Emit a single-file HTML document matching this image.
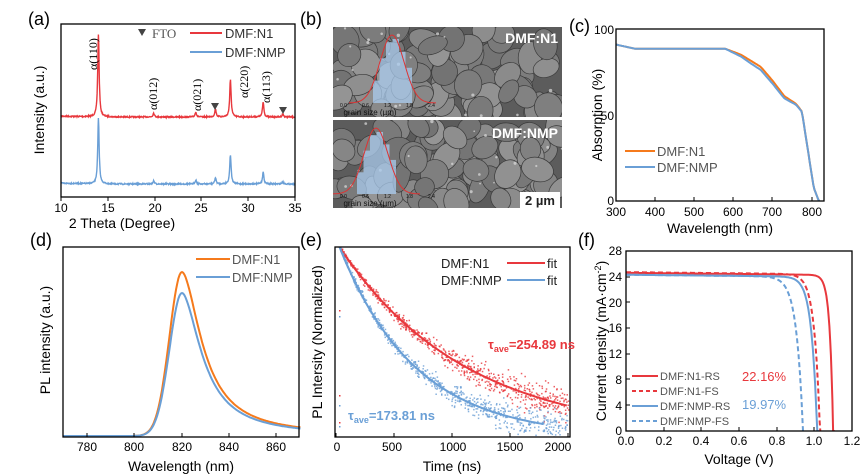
<!DOCTYPE html>
<html><head><meta charset="utf-8"><style>
html,body{margin:0;padding:0;background:#fff;}
svg{display:block;font-family:"Liberation Sans",Arial,sans-serif;}
</style></head><body>
<svg id="s" width="865" height="476" viewBox="0 0 865 476" xmlns="http://www.w3.org/2000/svg">
<defs>
<clipPath id="cb1"><rect x="333" y="27" width="229" height="90"/></clipPath>
<clipPath id="cb2"><rect x="333" y="120" width="229" height="88"/></clipPath>
<clipPath id="ce"><rect x="335" y="247" width="235" height="190"/></clipPath>
<clipPath id="cf"><rect x="626" y="251" width="226" height="180"/></clipPath>
</defs>
<g id="g"></g>
<g font-size="18" fill="#000">
<text x="28" y="25">(a)</text><text x="300" y="25">(b)</text><text x="569" y="32">(c)</text>
<text x="30" y="246">(d)</text><text x="300" y="246">(e)</text><text x="578" y="246">(f)</text>
</g>
<g font-size="12" text-anchor="middle" fill="#000">
<text x="61" y="212">10</text><text x="108" y="212">15</text><text x="155" y="212">20</text><text x="201" y="212">25</text><text x="248" y="212">30</text><text x="295" y="212">35</text>
</g>
<text x="122" y="228" font-size="14" text-anchor="middle">2 Theta (Degree)</text>
<text transform="translate(44,110) rotate(-90)" font-size="14" text-anchor="middle">Intensity (a.u.)</text>
<g font-family="Liberation Serif,serif" font-size="12" fill="#000">
<text transform="translate(97,70) rotate(-90)">α(110)</text>
<text transform="translate(157,110) rotate(-90)">α(012)</text>
<text transform="translate(201,111) rotate(-90)">α(021)</text>
<text transform="translate(248,98) rotate(-90)">α(220)</text>
<text transform="translate(270,103) rotate(-90)">α(113)</text>
</g>
<path d="M138,29 h8 l-4,7z M211,103 h8 l-4,7z M279,107 h8 l-4,7z" fill="#444"/>
<text x="152" y="38" font-family="Liberation Serif,serif" font-size="13" fill="#555">FTO</text>
<line x1="190" y1="33" x2="222" y2="33" stroke="#e8383d" stroke-width="2"/>
<line x1="190" y1="52" x2="222" y2="52" stroke="#6a9fd6" stroke-width="2"/>
<text x="225" y="38" font-size="13" fill="#333">DMF:N1</text>
<text x="225" y="57" font-size="13" fill="#333">DMF:NMP</text>
<g font-size="12" text-anchor="middle">
<text x="616" y="216">300</text><text x="655" y="216">400</text><text x="694" y="216">500</text><text x="733" y="216">600</text><text x="772" y="216">700</text><text x="812" y="216">800</text>
</g>
<g font-size="12" text-anchor="end"><text x="614" y="34">100</text><text x="614" y="120">50</text><text x="614" y="205">0</text></g>
<text x="720" y="233" font-size="14" text-anchor="middle">Wavelength (nm)</text>
<text transform="translate(602,115) rotate(-90)" font-size="14" text-anchor="middle">Absorption (%)</text>
<line x1="625" y1="151" x2="655" y2="151" stroke="#f57a1c" stroke-width="2"/>
<line x1="625" y1="167" x2="655" y2="167" stroke="#6a9fd6" stroke-width="2"/>
<text x="657" y="156" font-size="13" fill="#555">DMF:N1</text>
<text x="657" y="172" font-size="13" fill="#555">DMF:NMP</text>
<g font-size="12" text-anchor="middle">
<text x="87" y="451">780</text><text x="134" y="451">800</text><text x="182" y="451">820</text><text x="229" y="451">840</text><text x="276" y="451">860</text>
</g>
<text x="181" y="471" font-size="14" text-anchor="middle">Wavelength (nm)</text>
<text transform="translate(50,340) rotate(-90)" font-size="14" text-anchor="middle">PL intensity (a.u.)</text>
<line x1="196" y1="259" x2="230" y2="259" stroke="#f57a1c" stroke-width="2"/>
<line x1="196" y1="277" x2="230" y2="277" stroke="#6a9fd6" stroke-width="2"/>
<text x="232" y="264" font-size="13" fill="#555">DMF:N1</text>
<text x="232" y="282" font-size="13" fill="#555">DMF:NMP</text>
<g font-size="12" text-anchor="middle">
<text x="337" y="451">0</text><text x="392" y="451">500</text><text x="453" y="451">1000</text><text x="510" y="451">1500</text><text x="558" y="451">2000</text>
</g>
<text x="452" y="471" font-size="14" text-anchor="middle">Time (ns)</text>
<text transform="translate(322,342) rotate(-90)" font-size="14" text-anchor="middle">PL Intersity (Normalized)</text>
<text x="441" y="268" font-size="13" fill="#222">DMF:N1</text>
<text x="441" y="285" font-size="13" fill="#222">DMF:NMP</text>
<line x1="507" y1="263" x2="545" y2="263" stroke="#e8383d" stroke-width="2"/>
<line x1="507" y1="280" x2="545" y2="280" stroke="#6a9fd6" stroke-width="2"/>
<text x="547" y="268" font-size="13" fill="#222">fit</text>
<text x="547" y="285" font-size="13" fill="#222">fit</text>
<text x="488" y="349" font-size="13" font-weight="bold" fill="#e8383d">τ<tspan font-size="9" dy="3">ave</tspan><tspan dy="-3">=254.89 ns</tspan></text>
<text x="348" y="420" font-size="13" font-weight="bold" fill="#6a9fd6">τ<tspan font-size="9" dy="3">ave</tspan><tspan dy="-3">=173.81 ns</tspan></text>
<g font-size="12" text-anchor="middle">
<text x="626" y="445">0.0</text><text x="664" y="445">0.2</text><text x="701" y="445">0.4</text><text x="739" y="445">0.6</text><text x="777" y="445">0.8</text><text x="814" y="445">1.0</text><text x="852" y="445">1.2</text>
</g>
<g font-size="12" text-anchor="end">
<text x="622" y="255">28</text><text x="622" y="281">24</text><text x="622" y="307">20</text><text x="622" y="332">16</text><text x="622" y="358">12</text><text x="622" y="384">8</text><text x="622" y="410">4</text><text x="622" y="435">0</text>
</g>
<text x="739" y="464" font-size="14" text-anchor="middle">Voltage (V)</text>
<text transform="translate(606,341) rotate(-90)" font-size="14" text-anchor="middle">Current density (mA·cm<tspan font-size="9" dy="-5">-2</tspan><tspan dy="5">)</tspan></text>
<line x1="632" y1="376" x2="658" y2="376" stroke="#e8383d" stroke-width="2"/>
<line x1="632" y1="391" x2="658" y2="391" stroke="#e8383d" stroke-width="2" stroke-dasharray="4,3"/>
<line x1="632" y1="406" x2="658" y2="406" stroke="#6a9fd6" stroke-width="2"/>
<line x1="632" y1="421" x2="658" y2="421" stroke="#6a9fd6" stroke-width="2" stroke-dasharray="4,3"/>
<g font-size="11" fill="#555">
<text x="660" y="380">DMF:N1-RS</text><text x="660" y="395">DMF:N1-FS</text><text x="660" y="410">DMF:NMP-RS</text><text x="660" y="425">DMF:NMP-FS</text>
</g>
<text x="742" y="381" font-size="13" fill="#e8383d">22.16%</text>
<text x="742" y="409" font-size="13" fill="#6a9fd6">19.97%</text>
</svg>
<script>
(function(){
var NS="http://www.w3.org/2000/svg",g=document.getElementById("g");
function el(t,a,p){var e=document.createElementNS(NS,t);for(var k in a)e.setAttribute(k,a[k]);(p||g).appendChild(e);return e;}
var seed=7;function r(){seed=(seed*16807)%2147483647;return seed/2147483647;}
var RED="#e8383d",BLUE="#6a9fd6",OR="#f57a1c";
function xrd(base,sc,col){var pk=[[14,83],[19.9,4],[24.4,5],[26.5,8],[28.1,37],[31.6,15],[33.7,3]];var d="";
for(var i=0;i<=700;i++){var t=10+25*i/700,v=0;pk.forEach(function(p){var w=(t-p[0])/0.09;v+=p[1]/(1+w*w);});
var y=base-v*sc+(r()-0.5)*1.2+(t<14?-(14-t)*0.2:0);d+=(i?"L":"M")+(61+9.36*(t-10)).toFixed(1)+","+y.toFixed(1);}
el("path",{d:d,fill:"none",stroke:col,"stroke-width":1.4});}
xrd(117,1,RED);xrd(184,0.79,BLUE);
el("rect",{x:61,y:24,width:234,height:173,fill:"none",stroke:"#000","stroke-width":1.3});
[61,108,155,201,248,295].forEach(function(x){el("line",{x1:x,y1:197,x2:x,y2:201,stroke:"#000"});});
function sem(y0,h,clip,px){var gg=el("g",{"clip-path":"url(#"+clip+")"});
el("rect",{x:333,y:y0,width:229,height:h,fill:"#5c5c5c"},gg);
for(var i=0;i<90;i++){var cx=333+r()*229,cy=y0+r()*h,rx=9+r()*8,ry=8+r()*7,c=Math.floor(115+r()*35);
el("ellipse",{cx:cx,cy:cy,rx:rx,ry:ry,fill:"rgb("+c+","+c+","+c+")",stroke:"#3a3a3a","stroke-width":0.7,transform:"rotate("+(r()*180)+" "+cx+" "+cy+")"},gg);}
for(var i=0;i<20;i++){el("circle",{cx:333+r()*229,cy:y0+r()*h,r:0.8+r(),fill:"#ddd",opacity:0.7},gg);}
var hs=[0.35,0.7,0.95,1,0.8,0.55];var bw=6.5,bx=px-19;
hs.forEach(function(v,k){el("rect",{x:bx+k*bw,y:y0+h-14-v*(h-26),width:bw,height:v*(h-26),fill:"#a9cbee",opacity:0.75},gg);});
var d="";for(var i=0;i<=60;i++){var x=px-43+i*1.45,z=(x-px)/12;d+=(i?"L":"M")+x.toFixed(1)+","+(y0+h-14-(h-22)*Math.exp(-z*z/2)).toFixed(1);}
el("path",{d:d,fill:"none",stroke:"#d33",'stroke-width':1},gg);
["0.0","0.6","1.2","1.8","2.4"].forEach(function(s,k){var t=el("text",{x:340+k*22,y:y0+h-10,"font-size":5,fill:"#111"},gg);t.textContent=s;});
var t=el("text",{x:370,y:y0+h-2,"font-size":8,fill:"#111","text-anchor":"middle"},gg);t.textContent="grain size (µm)";
}
sem(27,90,"cb1",392);sem(120,88,"cb2",376);
var t=el("text",{x:558,y:43,"font-size":14,"font-weight":"bold",fill:"#fff","text-anchor":"end"});t.textContent="DMF:N1";
t=el("text",{x:558,y:138,"font-size":14,"font-weight":"bold",fill:"#fff","text-anchor":"end"});t.textContent="DMF:NMP";
el("rect",{x:520,y:192,width:40,height:16,fill:"#fff"});
t=el("text",{x:540,y:205,"font-size":13,"font-weight":"bold",fill:"#222","text-anchor":"middle"});t.textContent="2 µm";
function absc(l,o){var p=[[300,91],[350,88.5],[450,88.5],[580,88.5],[620,85],[670,78],[700,70],[730,61],[760,56.5],[775,52],[790,30],[805,8],[818,0]];
for(var i=0;i<p.length-1;i++){if(l<=p[i+1][0]){var f=(l-p[i][0])/(p[i+1][0]-p[i][0]);var v=p[i][1]+f*(p[i+1][1]-p[i][1]);
if(l>580&&l<780)v-=o*Math.sin(Math.PI*(l-580)/200);return v;}}return 0;}
function cc(o,col){var d="";for(var l=300;l<=820;l+=3){d+=(l>300?"L":"M")+(615.7+(l-300)*0.392).toFixed(1)+","+(201-1.72*absc(l,o)).toFixed(1);}
el("path",{d:d,fill:"none",stroke:col,"stroke-width":2});}
cc(0,OR);cc(1.8,BLUE);
el("rect",{x:616,y:29,width:208,height:172,fill:"none",stroke:"#000","stroke-width":1.3});
[616,655,694,733,772,812].forEach(function(x){el("line",{x1:x,y1:201,x2:x,y2:197,stroke:"#000"});});
function pl(l){return l<820?Math.exp(-Math.pow((l-820)/7.5,2)):1/(1+Math.pow((l-820)/10,1.8));}
function dc(H,col){var d="";for(var l=770;l<=870;l+=0.5){var v=pl(l);if(l<800)v=0;d+=(l>770?"L":"M")+(63.5+(l-770)*2.37).toFixed(1)+","+(436-H*v).toFixed(1);}
el("path",{d:d,fill:"none",stroke:col,"stroke-width":2});}
dc(164,OR);dc(143,BLUE);
el("rect",{x:63,y:247,width:236,height:190,fill:"none",stroke:"#000","stroke-width":1.3});
[87,134,182,229,276].forEach(function(x){el("line",{x1:x,y1:437,x2:x,y2:433,stroke:"#000"});});
var ge=el("g",{"clip-path":"url(#ce)"});
function ey(t,tau){return 247+190*(1-Math.exp(-(t-30)/tau));}
function ex(t){return 336+t*0.116;}
[[1090,RED],[654,BLUE]].forEach(function(q){for(var i=0;i<700;i++){var t=30+r()*1970;var y=ey(t,q[0]);var sp=2+(t/2000)*16;
y+=(r()+r()+r()-1.5)*sp;el("rect",{x:ex(t).toFixed(1),y:y.toFixed(1),width:1.5,height:1.5,fill:q[1],opacity:0.8},ge);}
var d="";var tm=q[1]==RED?2000:1800;for(var t=30;t<=tm;t+=20)d+=(t>30?"L":"M")+ex(t).toFixed(1)+","+ey(t,q[0]).toFixed(1);
el("path",{d:d,fill:"none",stroke:q[1],"stroke-width":2},ge);});
[[339,310,RED],[339,316,BLUE],[339,395,RED],[339,405,BLUE],[339,422,RED],[339,426,BLUE]].forEach(function(p){el("rect",{x:p[0],y:p[1],width:1.5,height:1.5,fill:p[2]},ge);});
el("rect",{x:335,y:247,width:235,height:190,fill:"none",stroke:"#000","stroke-width":1.3});
[336,394,452,510,568].forEach(function(x){el("line",{x1:x,y1:437,x2:x,y2:433,stroke:"#000"});});
var gf=el("g",{"clip-path":"url(#cf)"});
function jv(voc,s,j0,col,dash){var d="";for(var v=0;v<=1.2;v+=0.004){var J=j0*(1-Math.exp((v-voc)/s))+(0.3*(1-v));if(v>voc+0.01)break;d+=(v?"L":"M")+(626+v*188.3).toFixed(1)+","+(431-6.43*Math.max(J,0)).toFixed(1);}
var a={d:d,fill:"none",stroke:col,"stroke-width":2};if(dash)a["stroke-dasharray"]="5,3";el("path",a,gf);}
jv(1.10,0.018,24.3,RED,0);jv(1.03,0.03,24.4,RED,1);jv(1.015,0.03,24.0,BLUE,0);jv(0.94,0.035,24.0,BLUE,1);
el("rect",{x:626,y:251,width:226,height:180,fill:"none",stroke:"#000","stroke-width":1.3});
[626,664,701,739,777,814,852].forEach(function(x){el("line",{x1:x,y1:431,x2:x,y2:427,stroke:"#000"});});
[251,277,302,328,354,379,405].forEach(function(y){el("line",{x1:626,y1:y,x2:630,y2:y,stroke:"#000"});});
})();
</script>
</body></html>
